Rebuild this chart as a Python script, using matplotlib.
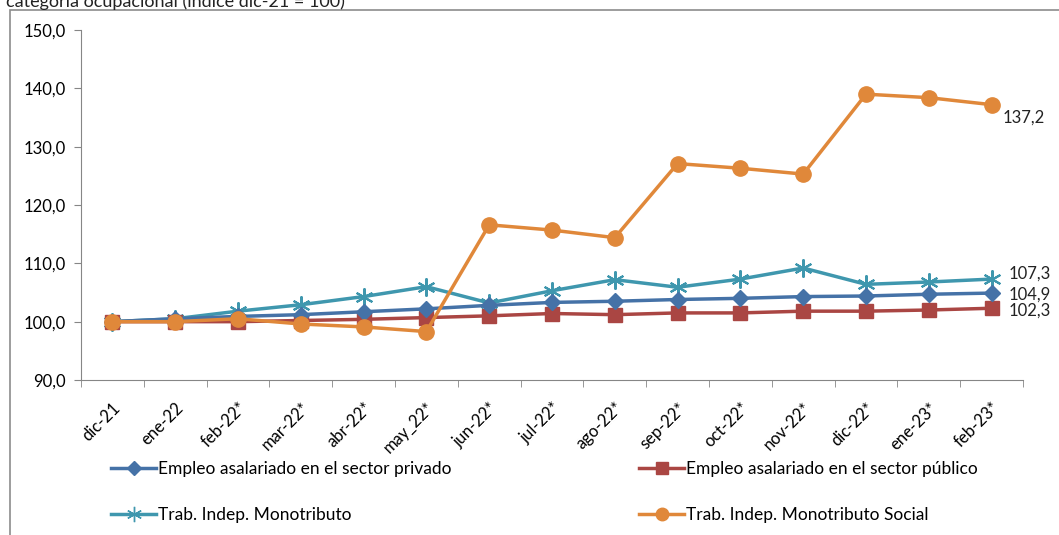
import matplotlib.pyplot as plt
import matplotlib.patches as mpatches
from matplotlib.lines import Line2D
import numpy as np

plt.rcParams['font.family'] = ['Lato', 'DejaVu Sans']

# Data
meses = ["dic-21", "ene-22", "feb-22*", "mar-22*", "abr-22*", "may_22*", "jun-22*",
         "jul-22*", "ago-22*", "sep-22*", "oct-22*", "nov-22*", "dic-22*", "ene-23*", "feb-23*"]
privado = [100.0, 100.5, 100.9, 101.2, 101.7, 102.2, 102.8, 103.3, 103.5, 103.8,
           104.0, 104.3, 104.4, 104.7, 104.9]
publico = [100.0, 100.0, 100.0, 100.2, 100.4, 100.7, 101.0, 101.4, 101.2, 101.5,
           101.5, 101.8, 101.8, 102.0, 102.3]
monotributo = [100.0, 100.5, 101.8, 102.9, 104.3, 106.0, 103.2, 105.3, 107.2, 105.9,
               107.3, 109.2, 106.4, 106.8, 107.3]
mono_social = [100.0, 100.0, 100.5, 99.6, 99.1, 98.3, 116.6, 115.7, 114.4, 127.1,
               126.3, 125.3, 139.0, 138.4, 137.2]

labels = ["Empleo asalariado en el sector privado",
          "Empleo asalariado en el sector público",
          "Trab. Indep. Monotributo",
          "Trab. Indep. Monotributo Social"]
colors = ["#4572A7", "#AA4643", "#3F97AE", "#E0883A"]

W, H = 1059, 535
fig = plt.figure(figsize=(W / 100, H / 100), dpi=100)
ax = fig.add_axes([81 / W, 1 - 380 / H, (1023 - 81) / W, (380 - 30) / H])

x = np.arange(len(meses))

# Draw series
ax.plot(x, privado, color=colors[0], lw=2.5, marker='D', ms=8, zorder=4)
ax.plot(x, publico, color=colors[1], lw=2.5, marker='s', ms=10, zorder=3)
ax.plot(x, monotributo, color=colors[2], lw=2.5, marker=(6, 2, 0), ms=13,
        mew=1.5, zorder=2)
ax.plot(x, mono_social, color=colors[3], lw=2.5, marker='o', ms=11, zorder=5)

# End labels
def fmt(v):
    return f"{v:.1f}".replace('.', ',')

lab_kw = dict(textcoords='offset points', fontsize=12, va='center', color='#222222')
ax.annotate(fmt(mono_social[-1]), (x[-1], mono_social[-1]), xytext=(8, -9), **lab_kw)
ax.annotate(fmt(monotributo[-1]), (x[-1], monotributo[-1]), xytext=(12, 4), **lab_kw)
ax.annotate(fmt(privado[-1]), (x[-1], privado[-1]), xytext=(12, -1), **lab_kw)
ax.annotate(fmt(publico[-1]), (x[-1], publico[-1]), xytext=(12, -2), **lab_kw)

# Axes
ax.set_xlim(-0.5, len(meses) - 0.5)
ax.set_ylim(90, 150)
ax.set_yticks(np.arange(90, 151, 10))
ax.set_yticklabels([fmt(v) for v in np.arange(90, 151, 10)], fontsize=12)
ax.set_xticks(x)
ax.set_xticklabels(meses, rotation=45, ha='right', rotation_mode='anchor', fontsize=12)
ax.set_xticks(np.arange(-0.5, len(meses), 1), minor=True)
ax.tick_params(axis='x', which='major', length=0, pad=14)
ax.tick_params(axis='x', which='minor', length=5, color='#868686')
ax.tick_params(axis='y', length=5, color='#868686', pad=6)
for side in ['top', 'right']:
    ax.spines[side].set_visible(False)
for side in ['left', 'bottom']:
    ax.spines[side].set_color('#868686')

# Legend
handles = [
    Line2D([], [], color=colors[0], lw=2.5, marker='D', ms=7),
    Line2D([], [], color=colors[1], lw=2.5, marker='s', ms=9),
    Line2D([], [], color=colors[2], lw=2.5, marker=(6, 2, 0), ms=11, mew=1),
    Line2D([], [], color=colors[3], lw=2.5, marker='o', ms=9),
]
leg_kw = dict(loc='upper left', frameon=False, fontsize=12.5, handlelength=2.6,
              handletextpad=0.1, labelspacing=1.75, borderaxespad=0)
fig.legend([handles[0], handles[2]], [labels[0], labels[2]],
           bbox_to_anchor=(104 / W, 1 - 454 / H), **leg_kw)
fig.legend([handles[1], handles[3]], [labels[1], labels[3]],
           bbox_to_anchor=(632 / W, 1 - 454 / H), **leg_kw)

# Chart frame and clipped title
frame = mpatches.Rectangle((10 / W, -0.05), 1.1, 1 - 10 / H + 0.05,
                           transform=fig.transFigure, fill=False,
                           edgecolor='#8c8c8c', lw=1.2)
fig.patches.append(frame)
fig.text(6 / W, 1 - 2 / H, "categoría ocupacional (índice dic-21 = 100)", fontsize=13,
         va='center', ha='left', color='#222222')

fig.savefig("out.png", dpi=100)
